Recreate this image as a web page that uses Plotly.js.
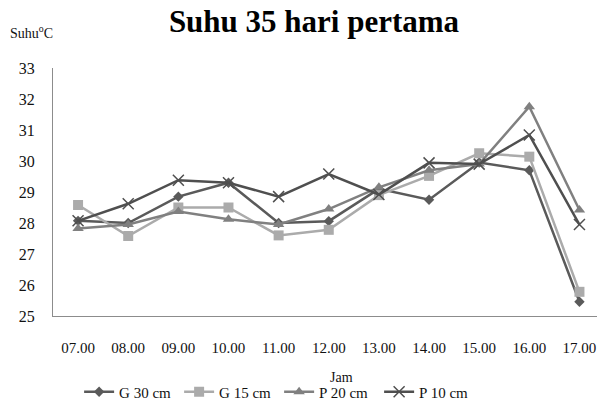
<!DOCTYPE html>
<html>
<head>
<meta charset="utf-8">
<script src="https://cdn.plot.ly/plotly-3.0.1.min.js"></script>
<style>
  html, body { margin: 0; padding: 0; background: #fff; }
  #chart { width: 600px; height: 412px; }
</style>
</head>
<body>
<div id="chart"></div>
<script>
// Hourly temperature readings (°C), first 35 days
const jam = ["07.00", "08.00", "09.00", "10.00", "11.00", "12.00", "13.00", "14.00", "15.00", "16.00", "17.00"];
const g30 = [28.07, 28.0, 28.85, 29.3, 28.0, 28.06, 29.1, 28.75, 29.95, 29.7, 25.46];
const g15 = [28.58, 27.58, 28.5, 28.5, 27.6, 27.78, 28.9, 29.52, 30.25, 30.14, 25.78];
const p20 = [27.82, 27.95, 28.37, 28.12, 27.95, 28.45, 29.15, 29.7, 29.9, 31.75, 28.42];
const p10 = [28.07, 28.62, 29.38, 29.3, 28.85, 29.58, 28.92, 29.94, 29.9, 30.84, 27.95];
const names = ["G 30 cm", "G 15 cm", "P 20 cm", "P 10 cm"];

const serif = "Liberation Serif, Times New Roman, serif";

function series(y, name, color, symbol, msize, extra) {
  return Object.assign({
    type: "scatter",
    mode: "lines+markers",
    x: jam,
    y: y,
    name: name,
    line: { color: color, width: 2.5 },
    marker: { color: color, symbol: symbol, size: msize }
  }, extra || {});
}

const data = [
  series(g30, names[0], "#5a5a5a", "diamond", 8),
  series(g15, names[1], "#ababab", "square", 10),
  series(p20, names[2], "#808080", "triangle-up", 10),
  series(p10, names[3], "#4f4f4f", "x-thin-open", 10, {
    marker: { color: "#4f4f4f", symbol: "x-thin-open", size: 11, line: { color: "#4f4f4f", width: 1.5 } }
  })
];

const layout = {
  width: 600,
  height: 412,
  paper_bgcolor: "#ffffff",
  plot_bgcolor: "#ffffff",
  margin: { l: 53, r: 3, t: 68, b: 96 },
  font: { family: serif, color: "#111", size: 15 },
  title: {
    text: "<b>Suhu 35 hari pertama</b>",
    font: { family: serif, size: 31, color: "#000" },
    x: 314 / 600,
    xanchor: "center",
    y: 0.948,
    yanchor: "middle"
  },
  xaxis: {
    type: "category",
    range: [-0.5, 10.35],
    showgrid: false,
    zeroline: false,
    showline: true,
    linecolor: "#8c8c8c",
    linewidth: 1,
    ticks: "",
    ticklabelstandoff: 18,
    tickfont: { family: serif, size: 15, color: "#111" }
  },
  yaxis: {
    range: [25, 33],
    dtick: 1,
    showgrid: false,
    zeroline: false,
    showline: true,
    linecolor: "#8c8c8c",
    linewidth: 1,
    ticks: "",
    ticklabelstandoff: 14,
    tickfont: { family: serif, size: 16, color: "#111" }
  },
  showlegend: true,
  legend: {
    orientation: "h",
    x: 0.048,
    xanchor: "left",
    y: -(392 - 316) / 248,
    yanchor: "middle",
    entrywidth: 55,
    itemwidth: 30,
    font: { family: serif, size: 15, color: "#111" },
    bgcolor: "rgba(0,0,0,0)"
  },
  annotations: [
    {
      text: "Suhu<sup>o</sup>C",
      xref: "paper", yref: "paper",
      x: 9 / 600 - 53 / 544, xanchor: "left",
      y: 1 + 36 / 248, yanchor: "middle",
      showarrow: false,
      font: { family: serif, size: 14, color: "#111" }
    },
    {
      text: "Jam",
      xref: "paper", yref: "paper",
      x: (341 - 53) / 544, xanchor: "center",
      y: -61 / 248, yanchor: "middle",
      showarrow: false,
      font: { family: serif, size: 14, color: "#111" }
    }
  ]
};

Plotly.newPlot("chart", data, layout, { displayModeBar: false, staticPlot: true });
</script>
</body>
</html>
